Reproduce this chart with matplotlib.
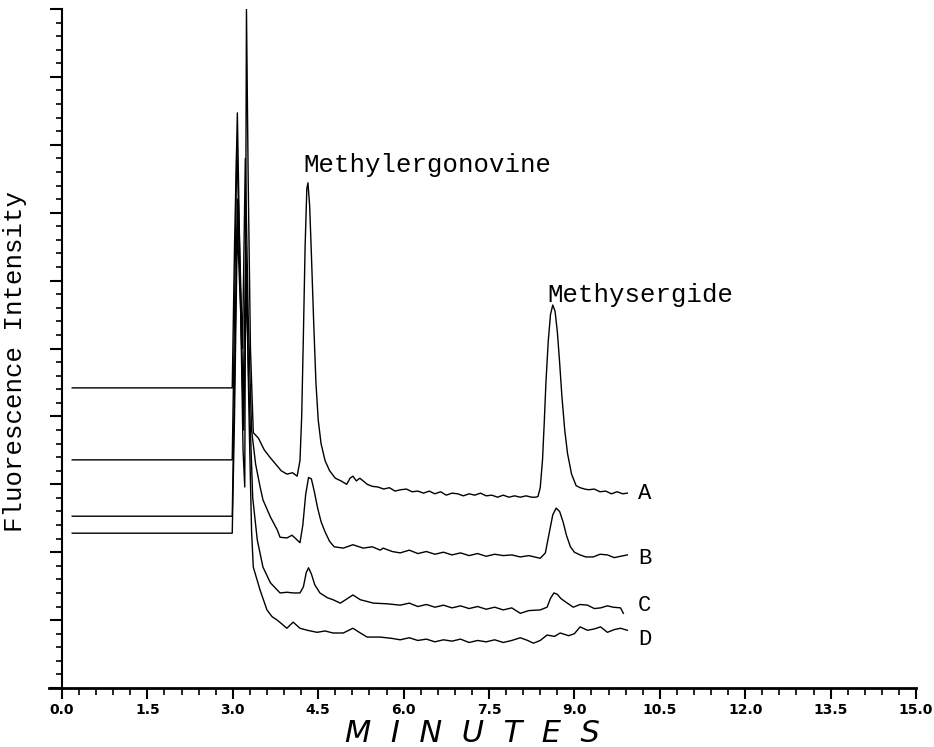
import matplotlib
matplotlib.use("Agg")
import matplotlib.pyplot as plt
from matplotlib.ticker import MultipleLocator, FixedLocator

# ---------------- data (minutes, fluorescence intensity in major-tick units) -------------
A_time = [0.18, 2.99, 3.03, 3.08, 3.13, 3.18, 3.21, 3.24, 3.27, 3.31, 3.36, 3.45, 3.55, 3.65,
          3.75, 3.85, 3.95, 4.05, 4.13, 4.18, 4.21, 4.24, 4.27, 4.30, 4.32, 4.35, 4.38, 4.42,
          4.46, 4.50, 4.55, 4.62, 4.70, 4.80, 4.90, 5.00, 5.06, 5.11, 5.17, 5.23, 5.29, 5.36,
          5.45, 5.55, 5.65, 5.75, 5.85, 5.95, 6.05, 6.15, 6.25, 6.35, 6.45, 6.55, 6.65, 6.75,
          6.85, 6.95, 7.05, 7.15, 7.25, 7.35, 7.45, 7.55, 7.65, 7.75, 7.85, 7.95, 8.05, 8.15,
          8.25, 8.32, 8.36, 8.40, 8.44, 8.47, 8.50, 8.54, 8.58, 8.62, 8.66, 8.70, 8.74, 8.78,
          8.83, 8.88, 8.95, 9.03, 9.10, 9.18, 9.25, 9.35, 9.45, 9.55, 9.65, 9.75, 9.85, 9.93]
A_val = [4.42, 4.42, 6.50, 8.47, 6.00, 3.50, 2.96, 10.00, 7.50, 5.00, 3.76, 3.68, 3.51, 3.40,
         3.30, 3.20, 3.15, 3.17, 3.12, 3.35, 4.00, 5.20, 6.50, 7.35, 7.44, 7.10, 6.40, 5.40,
         4.50, 3.95, 3.60, 3.35, 3.20, 3.09, 3.05, 3.00, 3.09, 3.12, 3.05, 3.09, 3.05, 3.00,
         2.97, 2.96, 2.93, 2.95, 2.90, 2.92, 2.93, 2.89, 2.90, 2.87, 2.90, 2.86, 2.89, 2.84,
         2.87, 2.86, 2.83, 2.86, 2.84, 2.87, 2.83, 2.84, 2.81, 2.84, 2.81, 2.83, 2.81, 2.83,
         2.81, 2.81, 2.82, 2.95, 3.36, 3.90, 4.50, 5.10, 5.50, 5.64, 5.55, 5.25, 4.80, 4.30,
         3.80, 3.45, 3.15, 2.98, 2.95, 2.93, 2.92, 2.93, 2.89, 2.90, 2.86, 2.89, 2.86, 2.87]

B_time = [0.18, 2.99, 3.03, 3.07, 3.12, 3.17, 3.22, 3.27, 3.33, 3.40, 3.48, 3.53, 3.66, 3.78,
          3.83, 3.95, 4.04, 4.13, 4.18, 4.23, 4.28, 4.33, 4.38, 4.43, 4.49, 4.55, 4.62, 4.70,
          4.78, 4.94, 5.11, 5.29, 5.45, 5.59, 5.64, 5.80, 5.94, 6.10, 6.25, 6.40, 6.55, 6.70,
          6.85, 7.00, 7.15, 7.30, 7.45, 7.60, 7.75, 7.90, 8.05, 8.20, 8.40, 8.49, 8.55, 8.62,
          8.68, 8.74, 8.80, 8.86, 8.93, 9.00, 9.10, 9.20, 9.33, 9.45, 9.58, 9.70, 9.81, 9.93]
B_val = [3.36, 3.36, 5.50, 8.00, 6.50, 5.00, 7.80, 5.50, 3.80, 3.30, 2.96, 2.77, 2.52, 2.33,
         2.22, 2.21, 2.25, 2.18, 2.14, 2.40, 2.85, 3.10, 3.08, 2.90, 2.65, 2.45, 2.30, 2.16,
         2.08, 2.06, 2.11, 2.06, 2.08, 2.03, 2.06, 2.01, 1.99, 2.03, 1.98, 2.01, 1.97, 2.00,
         1.96, 1.99, 1.95, 1.98, 1.94, 1.97, 1.95, 1.96, 1.93, 1.95, 1.91, 1.99, 2.25, 2.55,
         2.65, 2.60, 2.45, 2.25, 2.08, 2.00, 1.96, 1.93, 1.93, 1.97, 1.96, 1.92, 1.94, 1.96]

C_time = [0.18, 2.99, 3.03, 3.08, 3.13, 3.18, 3.23, 3.28, 3.35, 3.43, 3.53, 3.66, 3.83, 3.95,
          4.06, 4.18, 4.24, 4.29, 4.33, 4.38, 4.44, 4.53, 4.66, 4.76, 4.89, 5.11, 5.24, 5.47,
          5.71, 5.94, 6.10, 6.25, 6.40, 6.55, 6.70, 6.85, 7.00, 7.15, 7.30, 7.45, 7.60, 7.75,
          7.90, 8.05, 8.20, 8.40, 8.52, 8.58, 8.64, 8.70, 8.76, 8.84, 8.98, 9.10, 9.23, 9.35,
          9.46, 9.58, 9.68, 9.81, 9.86]
C_val = [2.53, 2.53, 4.50, 7.20, 6.00, 4.20, 6.50, 4.50, 2.80, 2.18, 1.78, 1.55, 1.40, 1.41,
         1.40, 1.40, 1.49, 1.70, 1.77, 1.68, 1.52, 1.40, 1.33, 1.30, 1.25, 1.37, 1.30, 1.25,
         1.24, 1.22, 1.25, 1.20, 1.23, 1.19, 1.22, 1.18, 1.21, 1.17, 1.20, 1.16, 1.19, 1.15,
         1.18, 1.10, 1.14, 1.15, 1.19, 1.32, 1.40, 1.38, 1.32, 1.27, 1.19, 1.23, 1.22, 1.17,
         1.18, 1.21, 1.19, 1.18, 1.10]

D_time = [0.18, 2.99, 3.03, 3.08, 3.14, 3.19, 3.24, 3.29, 3.33, 3.36, 3.48, 3.60, 3.69, 3.78,
          3.88, 3.95, 4.06, 4.18, 4.31, 4.48, 4.62, 4.76, 4.94, 5.11, 5.24, 5.36, 5.59, 5.80,
          5.94, 6.10, 6.25, 6.40, 6.55, 6.70, 6.85, 7.00, 7.15, 7.30, 7.45, 7.60, 7.75, 7.90,
          8.05, 8.18, 8.28, 8.40, 8.52, 8.65, 8.75, 8.90, 9.00, 9.10, 9.23, 9.35, 9.46, 9.58,
          9.70, 9.81, 9.93]
D_val = [2.28, 2.28, 4.00, 6.80, 5.50, 3.80, 6.00, 3.80, 2.30, 1.78, 1.44, 1.15, 1.05, 1.00,
         0.93, 0.88, 0.97, 0.88, 0.85, 0.82, 0.84, 0.81, 0.81, 0.88, 0.81, 0.75, 0.75, 0.73,
         0.71, 0.74, 0.70, 0.72, 0.68, 0.71, 0.69, 0.72, 0.67, 0.70, 0.68, 0.71, 0.67, 0.70,
         0.74, 0.70, 0.66, 0.70, 0.78, 0.76, 0.81, 0.77, 0.80, 0.90, 0.85, 0.87, 0.90, 0.82,
         0.86, 0.88, 0.85]

traces = [("A", A_time, A_val), ("B", B_time, B_val), ("C", C_time, C_val), ("D", D_time, D_val)]
trace_label_y = {"A": 2.87, "B": 1.91, "C": 1.22, "D": 0.71}

x_ticks = [0.0, 1.5, 3.0, 4.5, 6.0, 7.5, 9.0, 10.5, 12.0, 13.5, 15.0]
x_tick_labels = ["0.0", "1.5", "3.0", "4.5", "6.0", "7.5", "9.0", "10.5", "12.0", "13.5", "15.0"]

peak_labels = [("Methylergonovine", 4.24, 7.70), ("Methysergide", 8.52, 5.79)]

# ---------------- figure ----------------
mono = ["Liberation Mono", "DejaVu Sans Mono"]
fig = plt.figure(figsize=(9.34, 7.47), dpi=100)
ax = fig.add_axes([62 / 934, 1 - 688 / 747, (916 - 62) / 934, (688 - 9) / 747])

for name, t, v in traces:
    ax.plot(t, v, color="black", lw=1.0, solid_joinstyle="round")
    ax.text(10.12, trace_label_y[name], name, fontsize=16, family=mono,
            ha="left", va="center")

for txt, xx, yy in peak_labels:
    ax.text(xx, yy, txt, fontsize=18.5, family=mono, ha="left", va="center")

ax.set_xlim(0, 15)
ax.set_ylim(0, 10)
ax.spines["top"].set_visible(False)
ax.spines["right"].set_visible(False)
ax.spines["bottom"].set_linewidth(2.0)
ax.spines["left"].set_linewidth(1.5)
ax.spines["bottom"].set_bounds(-0.22, 15)

ax.xaxis.set_major_locator(FixedLocator(x_ticks))
ax.set_xticklabels(x_tick_labels, fontsize=10, fontweight="bold")
ax.xaxis.set_minor_locator(MultipleLocator(0.3))
ax.yaxis.set_major_locator(MultipleLocator(1))
ax.yaxis.set_minor_locator(MultipleLocator(0.2))
ax.set_yticklabels([])
ax.tick_params(axis="x", which="major", length=8, width=1.5, direction="out", pad=3)
ax.tick_params(axis="x", which="minor", length=5, width=1.2, direction="out")
ax.tick_params(axis="y", which="major", length=9, width=1.5, direction="out")
ax.tick_params(axis="y", which="minor", length=4.5, width=1.2, direction="out")

fig.text(472 / 934, 1 - 733 / 747, "M  I  N  U  T  E  S", fontsize=22,
         family=["DejaVu Sans"], fontstyle="italic", fontweight="normal",
         ha="center", va="center")
fig.text(15 / 934, 1 - 362 / 747, "Fluorescence Intensity", fontsize=18.5, family=mono,
         rotation=90, ha="center", va="center")

fig.savefig("out.png", dpi=100)
